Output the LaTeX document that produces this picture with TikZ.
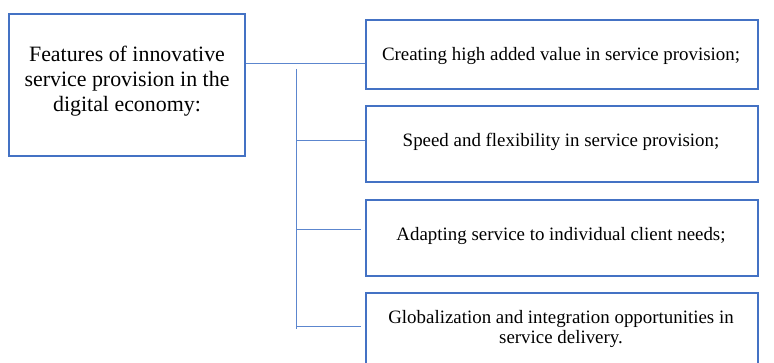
\documentclass[tikz,border=0pt]{standalone}
\usepackage{fontspec}
\setmainfont{Liberation Serif}
\definecolor{boxblue}{RGB}{68,114,196}
\definecolor{lineblue}{RGB}{92,134,206}
\begin{document}
\begin{tikzpicture}[x=1pt,y=-1pt,
  box/.style={draw=boxblue,line width=1.4pt,rectangle,inner sep=0pt},
  conn/.style={draw=lineblue,line width=1pt},
  maintext/.style={align=center,font=\fontsize{21.9}{25}\selectfont,inner sep=0pt},
  itemtext/.style={align=center,font=\fontsize{18.9}{20.5}\selectfont,inner sep=0pt}]
\useasboundingbox (0,0) rectangle (774,363);
\clip (0,0) rectangle (774,363);
% boxes
\node[box,minimum width=236pt,minimum height=142pt] (main) at (127,85) {};
\node[box,minimum width=392pt,minimum height=69pt] (b1) at (562,54.5) {};
\node[box,minimum width=392pt,minimum height=76pt] (b2) at (562,144) {};
\node[box,minimum width=392pt,minimum height=76pt] (b3) at (562,238) {};
\node[box,minimum width=392pt,minimum height=90pt] (b4) at (562,338) {};
% texts
\node[maintext] (tmain) at (127,81) {Features of innovative\\service provision in the\\digital economy:};
\node[itemtext] (t1) at (561,56) {Creating high added value in service provision;};
\node[itemtext] (t2) at (561,142) {Speed and flexibility in service provision;};
\node[itemtext] (t3) at (561,236) {Adapting service to individual client needs;};
\node[itemtext] (t4) at (561,329) {Globalization and integration opportunities in\\service delivery.};
% connectors
\coordinate (j0) at (245.7,64);
\coordinate (vt) at (296,69);
\coordinate (vb) at (296,329);
\coordinate (j2) at (296,141);
\coordinate (j3) at (296,230);
\coordinate (j4) at (296,327);
\coordinate (e3) at (361,230);
\coordinate (e4) at (361,327);
\draw[conn] (j0) -- (j0 -| b1.west);
\draw[conn] (vt) -- (vb);
\draw[conn] (j2) -- (j2 -| b2.west);
\draw[conn] (j3) -- (e3);
\draw[conn] (j4) -- (e4);
\end{tikzpicture}
\end{document}
